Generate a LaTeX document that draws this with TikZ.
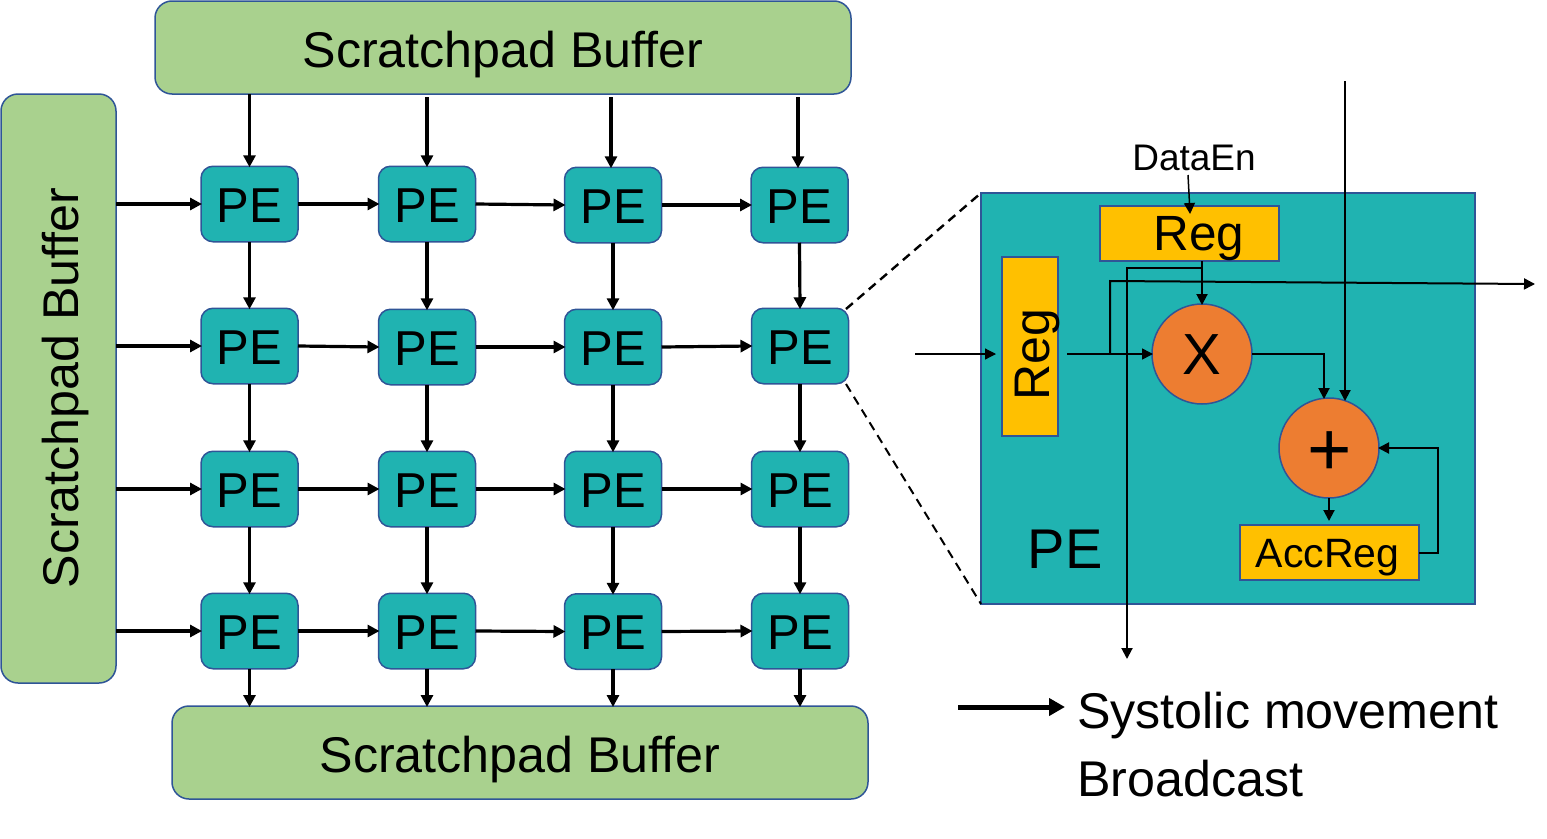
\documentclass[tikz,border=0pt]{standalone}
\usepackage{fontspec}
\setmainfont{Liberation Sans}
\usetikzlibrary{arrows.meta}
\definecolor{tealf}{HTML}{20B3B1}
\definecolor{edge}{HTML}{2F5597}
\definecolor{greenf}{HTML}{A9D18E}
\definecolor{orangef}{HTML}{ED7D31}
\definecolor{yellowf}{HTML}{FFC000}
\newcommand{\fs}[1]{\fontsize{#1}{#1}\selectfont}
\tikzset{
  x=1pt,y=-1pt,
  capt/.style={inner sep=0pt,outer sep=0pt,text depth=0pt},
  buf/.style={draw=edge,fill=greenf,line width=1.5pt,rounded corners=17pt,outer sep=0pt,inner sep=0pt,
     text height=39pt,text depth=0pt,font=\fs{50.2}},
  pe/.style={draw=edge,fill=tealf,line width=1.5pt,rounded corners=12pt,minimum width=97pt,minimum height=75.5pt,
     inner sep=0pt,outer sep=0pt,text height=36pt,text depth=0pt,font=\fs{49}},
  regbox/.style={draw=edge,fill=yellowf,line width=1.5pt,inner sep=0pt,outer sep=0pt},
  op/.style={circle,draw=edge,fill=orangef,line width=1.5pt,minimum size=100pt,inner sep=0pt,outer sep=0pt},
  sys/.style={draw=black,line width=3.2pt,-{Triangle[length=12pt,width=12pt]},shorten >=-1pt},
  wire/.style={draw=black,line width=2pt,-{Triangle[length=11pt,width=11pt]},shorten >=-1pt},
  thin wire/.style={draw=black,line width=1.2pt,-{Triangle[length=11pt,width=11pt]}},
  zoomline/.style={draw=black,line width=2.4pt,dash pattern=on 9pt off 6pt},
}
\begin{document}
\begin{tikzpicture}
\useasboundingbox (0,0) rectangle (1547,838);
% buffers
\node[buf,minimum width=696pt,minimum height=93pt] (top) at (503,47.5) {Scratchpad Buffer};
\node[buf,minimum width=115pt,minimum height=589pt] (left) at (58.5,388.5) {};
\node[capt,font=\fs{50.2},text height=36pt,rotate=90] (lefttext) at (60,388) {Scratchpad Buffer};
\node[buf,minimum width=696pt,minimum height=93pt] (bot) at (520,752.5) {Scratchpad Buffer};
% PEs
\node[pe] (p11) at (249.5,204) {PE};
\node[pe] (p12) at (427,204) {PE};
\node[pe] (p13) at (613,205) {PE};
\node[pe] (p14) at (799.5,205) {PE};
\node[pe] (p21) at (249.5,346) {PE};
\node[pe] (p22) at (427,347) {PE};
\node[pe] (p23) at (613,347) {PE};
\node[pe] (p24) at (800,346) {PE};
\node[pe] (p31) at (249.5,489) {PE};
\node[pe] (p32) at (427,489) {PE};
\node[pe] (p33) at (613,489) {PE};
\node[pe] (p34) at (800,489) {PE};
\node[pe] (p41) at (249.5,631) {PE};
\node[pe] (p42) at (427,631) {PE};
\node[pe] (p43) at (613,631.5) {PE};
\node[pe] (p44) at (800,631) {PE};
% feed coordinates
\coordinate (t2) at (427,97);
\coordinate (t3) at (611,97);
\coordinate (t4) at (798,97);
\draw[sys] (p11.north |- top.south) -- (p11.north);
\draw[sys] (t2) -- (p12.north);
\draw[sys] (t3) -- (p13.north -| t3);
\draw[sys] (t4) -- (p14.north -| t4);
\foreach \r in {1,2,3,4}{
  \draw[sys] (left.east |- p\r1.west) -- (p\r1.west);
  \draw[sys] (p\r1.east) -- (p\r2.west);
  \draw[sys] (p\r2.east) -- (p\r3.west);
  \draw[sys] (p\r3.east) -- (p\r4.west);
}
\foreach \c in {1,2,3,4}{
  \draw[sys] (p1\c.south) -- (p2\c.north);
  \draw[sys] (p2\c.south) -- (p3\c.north);
  \draw[sys] (p3\c.south) -- (p4\c.north);
  \draw[sys] (p4\c.south) -- (p4\c.south |- bot.north);
}
% detail box
\node[draw=edge,fill=tealf,line width=1.5pt,minimum width=494pt,minimum height=411pt,inner sep=0pt,outer sep=0pt] (detail) at (1228,398.5) {};
\coordinate (za) at (846,309);
\coordinate (zb) at (846,384);
\draw[zoomline] (za) -- (detail.north west);
\draw[zoomline,line width=2pt] (zb) -- (detail.south west);
% registers
\node[regbox,minimum width=179pt,minimum height=55pt] (regt) at (1189.5,233.5) {};
\node[capt,font=\fs{49.5},text height=34.5pt] (regttext) at (1199,233.5) {Reg};
\node[regbox,minimum width=56pt,minimum height=179pt] (regl) at (1030,346.5) {};
\node[capt,font=\fs{50},text height=34.5pt,rotate=90] (regltext) at (1032,355) {Reg};
\node[regbox,minimum width=179pt,minimum height=55pt] (acc) at (1329.5,552.5) {};
\node[capt,font=\fs{41},text height=29pt] (acctext) at (1327.5,553) {AccReg};
\node[op] (mul) at (1202,354) {};
\node[capt,font=\fs{58},text height=40pt] (multext) at (1202,354) {X};
\node[op] (add) at (1329,448) {};
\node[inner sep=0pt,font=\fs{76},anchor=base] (addtext) at (1329.5,475) {+};
\node[capt,font=\fs{56},text height=40pt] (petext) at (1065,548) {PE};
\node[inner sep=0pt,font=\fs{37},anchor=base] (den) at (1194,170) {DataEn};
% wires
\coordinate (dena) at (1188,175);
\coordinate (denb) at (1190,213);
\draw[wire,line width=1.5pt] (dena) -- (denb);
\coordinate (inl) at (915,354);
\coordinate (inr) at (996,354);
\draw[thin wire] (inl) -- (inr);
\coordinate (rego) at (1067,354);
\draw[wire,line width=1.5pt] (rego) -- (mul.west);
\coordinate (b1) at (1110,354);
\coordinate (b2) at (1110,281);
\coordinate (bend) at (1534,284);
\draw[wire] (b1) -- (b2) -- (bend);
\draw[wire] (regt.south -| mul.north) -- (mul.north);
\coordinate (c1) at (1202,268);
\coordinate (c2) at (1127,268);
\coordinate (c3) at (1127,658);
\draw[wire] (c1) -- (c2) -- (c3);
\coordinate (vt) at (1345,81);
\coordinate (vb) at (1345,400);
\draw[wire] (vt) -- (vb);
\coordinate (m1) at (1324,354);
\coordinate (m2) at (1324,398);
\draw[wire] (mul.east) -- (m1) -- (m2);
\coordinate (f1) at (1438,553);
\coordinate (f2) at (1438,448);
\draw[wire] (acc.east |- f1) -- (f1) -- (f2) -- (add.east);
\coordinate (ao) at (1329,520);
\draw[wire] (add.south) -- (ao);
% legend
\coordinate (la) at (958,707);
\coordinate (lb) at (1065,707);
\draw[draw=black,line width=5pt,-{Triangle[length=16pt,width=17pt]}] (la) -- (lb);
\node[inner sep=0pt,anchor=base west,font=\fs{50.2}] (lsys) at (1077,728.5) {Systolic movement};
\node[inner sep=0pt,anchor=base west,font=\fs{50.2}] (lbro) at (1077,796.5) {Broadcast};
\end{tikzpicture}
\end{document}
